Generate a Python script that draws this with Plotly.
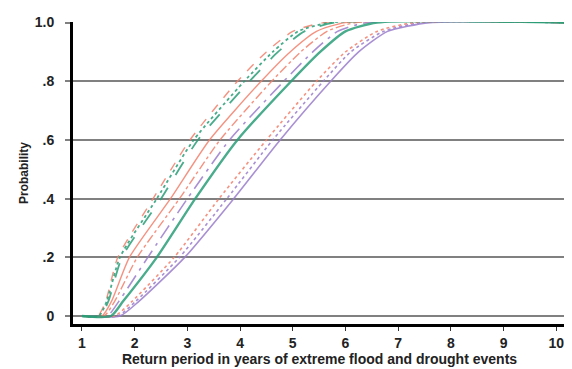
import plotly.graph_objects as go

# Probability levels at which each curve's return period was read
prob_levels = [0, 0, 0.05, 0.2, 0.4, 0.6, 0.8, 0.9, 0.97, 1.0, 1.0]

# Return period (years) of each curve at the probability levels above
s_salmon_dash    = [1.0, 1.30, 1.45, 1.68, 2.35, 3.05, 3.95, 4.50, 5.00, 5.60, 10.2]
s_green_dot      = [1.0, 1.32, 1.47, 1.72, 2.42, 3.12, 4.08, 4.62, 5.10, 5.70, 10.2]
s_green_dash     = [1.0, 1.35, 1.50, 1.76, 2.50, 3.20, 4.18, 4.72, 5.22, 5.80, 10.2]
s_salmon_solid   = [1.0, 1.38, 1.56, 1.90, 2.68, 3.42, 4.40, 4.95, 5.45, 6.00, 10.2]
s_salmon_dashdot = [1.0, 1.42, 1.62, 2.05, 2.85, 3.62, 4.60, 5.15, 5.65, 6.20, 10.2]
s_purple_ldd     = [1.0, 1.48, 1.70, 2.25, 3.00, 3.80, 4.83, 5.38, 5.85, 6.40, 10.2]
s_green_solid    = [1.0, 1.55, 1.78, 2.42, 3.15, 3.95, 4.97, 5.52, 6.00, 6.60, 10.2]
s_salmon_dot     = [1.0, 1.62, 1.95, 2.75, 3.60, 4.50, 5.45, 6.00, 6.60, 7.30, 10.2]
s_purple_dot     = [1.0, 1.68, 2.02, 2.85, 3.75, 4.62, 5.58, 6.10, 6.72, 7.45, 10.2]
s_purple_solid   = [1.0, 1.72, 2.08, 2.95, 3.88, 4.76, 5.72, 6.25, 6.80, 7.60, 10.2]

x_ticks = [1, 2, 3, 4, 5, 6, 7, 8, 9, 10]
y_ticks = [0, 0.2, 0.4, 0.6, 0.8, 1.0]
y_tick_labels = ["0", ".2", ".4", ".6", ".8", "1.0"]

SALMON = "#f3806c"
GREEN = "#2a9e78"
PURPLE = "#9a7dcc"

series = [
    (s_purple_solid, PURPLE, "solid", 1.6),
    (s_purple_dot, PURPLE, "dot", 1.6),
    (s_salmon_dot, SALMON, "dot", 1.6),
    (s_purple_ldd, PURPLE, "longdashdot", 1.6),
    (s_salmon_dashdot, SALMON, "dashdot", 1.4),
    (s_salmon_solid, SALMON, "solid", 1.4),
    (s_salmon_dash, SALMON, "dash", 1.4),
    (s_green_dash, GREEN, "longdash", 1.8),
    (s_green_dot, GREEN, "dot", 1.8),
    (s_green_solid, GREEN, "solid", 2.4),
]

fig = go.Figure()
for xs, col, dash, w in series:
    fig.add_trace(go.Scatter(x=xs, y=prob_levels, mode="lines",
                             line=dict(color=col, dash=dash, width=w,
                                       shape="spline", smoothing=0.6),
                             opacity=0.85, showlegend=False, hoverinfo="skip"))

FONT = "Liberation Sans, Arial, sans-serif"

# the page body adds an 8px offset, so the figure is 8px smaller
fig.update_layout(
    width=564, height=361,
    margin=dict(l=65, r=6, t=14, b=45),
    paper_bgcolor="white", plot_bgcolor="white",
    font=dict(family=FONT, color="#222", size=13),
    xaxis=dict(
        range=[0.83, 10.185], tickvals=x_ticks,
        ticktext=[f"<b>{v}</b>" for v in x_ticks],
        showgrid=False, zeroline=False,
        showline=True, linecolor="black", linewidth=3,
        ticks="outside", ticklen=4, tickwidth=1, tickcolor="#333",
        tickfont=dict(family=FONT, size=14, color="#222"),
        title=dict(text="<b>Return period in years of extreme flood and drought events</b>",
                   font=dict(family=FONT, size=14, color="#222"), standoff=3),
    ),
    yaxis=dict(
        range=[-0.0272, 1.002], tickvals=y_ticks,
        ticktext=[f"<b>{t}</b>" for t in y_tick_labels],
        showgrid=True, gridcolor="#808080", gridwidth=1.5, zeroline=False,
        showline=True, linecolor="black", linewidth=3,
        ticks="outside", ticklen=5, tickwidth=1.5, tickcolor="#808080",
        ticklabelstandoff=8,
        tickfont=dict(family=FONT, size=14, color="#222"),
        title=dict(text="<b>Probability</b>", font=dict(family=FONT, size=12, color="#222"),
                   standoff=4),
    ),
)

fig.write_html("out.html")
